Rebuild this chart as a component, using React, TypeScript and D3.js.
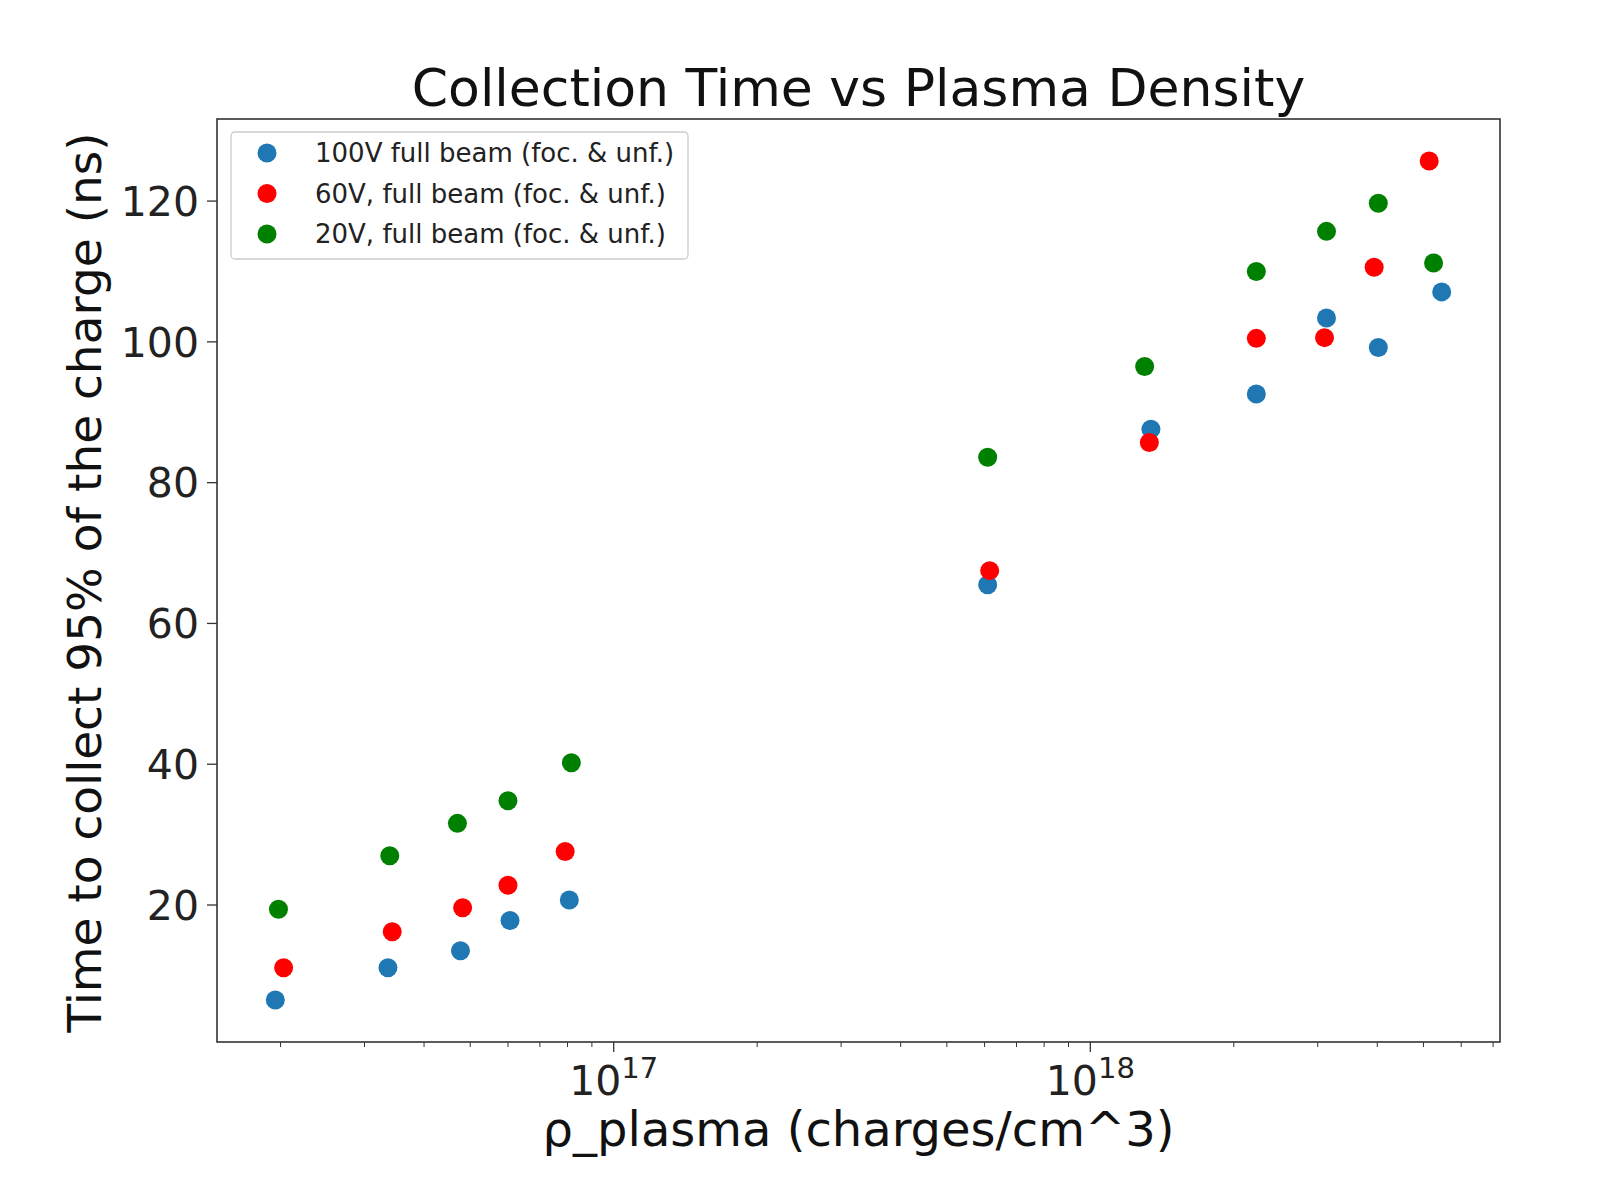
import React, { useRef, useEffect } from 'react';
import * as d3 from 'd3';

interface Series {
    label: string;
    color: string;
    x: number[];
    y: number[];
}

const title = "Collection Time vs Plasma Density";
const xLabel = "ρ_plasma (charges/cm^3)";
const yLabel = "Time to collect 95% of the charge (ns)";

const yTicks = [20, 40, 60, 80, 100, 120];
const xMajorExponents = [17, 18];

const x100V = [1.95e16, 3.36e16, 4.77e16, 6.06e16, 8.07e16, 6.09e17, 1.34e18, 2.23e18, 3.13e18, 4.02e18, 5.46e18];
const y100V = [6.5, 11.1, 13.5, 17.8, 20.7, 65.5, 87.6, 92.6, 103.4, 99.2, 107.1];

const x60V = [2.03e16, 3.43e16, 4.82e16, 6.0e16, 7.91e16, 6.15e17, 1.33e18, 2.23e18, 3.10e18, 3.94e18, 5.14e18];
const y60V = [11.1, 16.2, 19.6, 22.8, 27.6, 67.5, 85.7, 100.5, 100.6, 110.6, 125.7];

const x20V = [1.98e16, 3.39e16, 4.70e16, 6.0e16, 8.15e16, 6.09e17, 1.30e18, 2.23e18, 3.13e18, 4.02e18, 5.25e18];
const y20V = [19.4, 27.0, 31.6, 34.8, 40.2, 83.6, 96.5, 110.0, 115.7, 119.7, 111.2];

const series: Series[] = [
    { label: "100V full beam (foc. & unf.)", color: "#1f77b4", x: x100V, y: y100V },
    { label: "60V, full beam (foc. & unf.)", color: "#ff0000", x: x60V, y: y60V },
    { label: "20V, full beam (foc. & unf.)", color: "#008000", x: x20V, y: y20V },
];

const ScatterChart: React.FC = () => {
    const ref = useRef<SVGSVGElement | null>(null);

    useEffect(() => {
        if (!ref.current) return;
        const W = 1623, H = 1199;
        const margin = { top: 119, right: 123, bottom: 157, left: 217 };
        const width = W - margin.left - margin.right;
        const height = H - margin.top - margin.bottom;
        const font = "DejaVu Sans, sans-serif";

        const root = d3.select(ref.current);
        root.selectAll("*").remove();
        root.attr("width", W).attr("height", H);
        root.append("rect").attr("width", W).attr("height", H).attr("fill", "white");

        // matplotlib-like 5% margins on the data
        const allX = series.flatMap(s => s.x);
        const allY = series.flatMap(s => s.y);
        const lx0 = Math.log10(d3.min(allX) as number), lx1 = Math.log10(d3.max(allX) as number);
        const px = (lx1 - lx0) * 0.05;
        const y0 = d3.min(allY) as number, y1 = d3.max(allY) as number;
        const py = (y1 - y0) * 0.05;

        const x = d3.scaleLog()
            .domain([Math.pow(10, lx0 - px), Math.pow(10, lx1 + px)])
            .range([0, width]);
        const y = d3.scaleLinear()
            .domain([y0 - py, y1 + py])
            .range([height, 0]);

        const g = root.append("g").attr("transform", `translate(${margin.left},${margin.top})`);

        // Points
        series.forEach(s => {
            g.selectAll(null)
                .data(s.x.map((v, i) => [v, s.y[i]]))
                .join("circle")
                .attr("cx", d => x(d[0]))
                .attr("cy", d => y(d[1]))
                .attr("r", 9.5)
                .attr("fill", s.color);
        });

        // Frame
        g.append("rect")
            .attr("width", width).attr("height", height)
            .attr("fill", "none").attr("stroke", "#333").attr("stroke-width", 1.6);

        // Y ticks
        yTicks.forEach(t => {
            g.append("line")
                .attr("x1", -10).attr("x2", 0)
                .attr("y1", y(t)).attr("y2", y(t))
                .attr("stroke", "#333").attr("stroke-width", 1.3);
            g.append("text")
                .attr("x", -18).attr("y", y(t))
                .attr("dy", "0.36em")
                .attr("text-anchor", "end")
                .attr("font-family", font).attr("font-size", 41)
                .attr("fill", "#222")
                .text(t);
        });

        // X ticks (major + minor)
        const [dmin, dmax] = x.domain();
        for (let e = Math.floor(Math.log10(dmin)); e <= Math.ceil(Math.log10(dmax)); e++) {
            for (let m = 1; m < 10; m++) {
                const v = m * Math.pow(10, e);
                if (v < dmin || v > dmax) continue;
                const major = m === 1;
                g.append("line")
                    .attr("x1", x(v)).attr("x2", x(v))
                    .attr("y1", height).attr("y2", height + (major ? 10 : 5))
                    .attr("stroke", "#333").attr("stroke-width", major ? 1.3 : 1);
            }
        }
        xMajorExponents.forEach(e => {
            const t = g.append("text")
                .attr("x", x(Math.pow(10, e))).attr("y", height + 53)
                .attr("text-anchor", "middle")
                .attr("font-family", font).attr("font-size", 41)
                .attr("fill", "#222");
            t.append("tspan").text("10");
            t.append("tspan").attr("dy", -17).attr("font-size", 29).text(String(e));
        });

        // Title and axis labels
        root.append("text")
            .attr("x", margin.left + width / 2).attr("y", 106)
            .attr("text-anchor", "middle")
            .attr("font-family", font).attr("font-size", 52)
            .attr("fill", "#111")
            .text(title);
        root.append("text")
            .attr("x", margin.left + width / 2).attr("y", 1146)
            .attr("text-anchor", "middle")
            .attr("font-family", font).attr("font-size", 48)
            .attr("fill", "#111")
            .text(xLabel);
        root.append("text")
            .attr("transform", `translate(101,${margin.top + height / 2 + 2}) rotate(-90)`)
            .attr("text-anchor", "middle")
            .attr("font-family", font).attr("font-size", 47)
            .attr("fill", "#111")
            .text(yLabel);

        // Legend
        const leg = g.append("g").attr("transform", "translate(14,13)");
        leg.append("rect")
            .attr("width", 457).attr("height", 127).attr("rx", 4)
            .attr("fill", "white").attr("stroke", "#ccc").attr("stroke-width", 1.3);
        series.forEach((s, i) => {
            const cy = 21 + i * 40.5;
            leg.append("circle").attr("cx", 36).attr("cy", cy).attr("r", 9.5).attr("fill", s.color);
            leg.append("text")
                .attr("x", 84).attr("y", cy).attr("dy", "0.36em")
                .attr("font-family", font).attr("font-size", 26)
                .attr("fill", "#222")
                .text(s.label);
        });
    }, []);

    return <svg ref={ref} style={{ position: 'absolute', left: 0, top: 0 }} />;
};

export default function App() {
    return <ScatterChart />;
}
